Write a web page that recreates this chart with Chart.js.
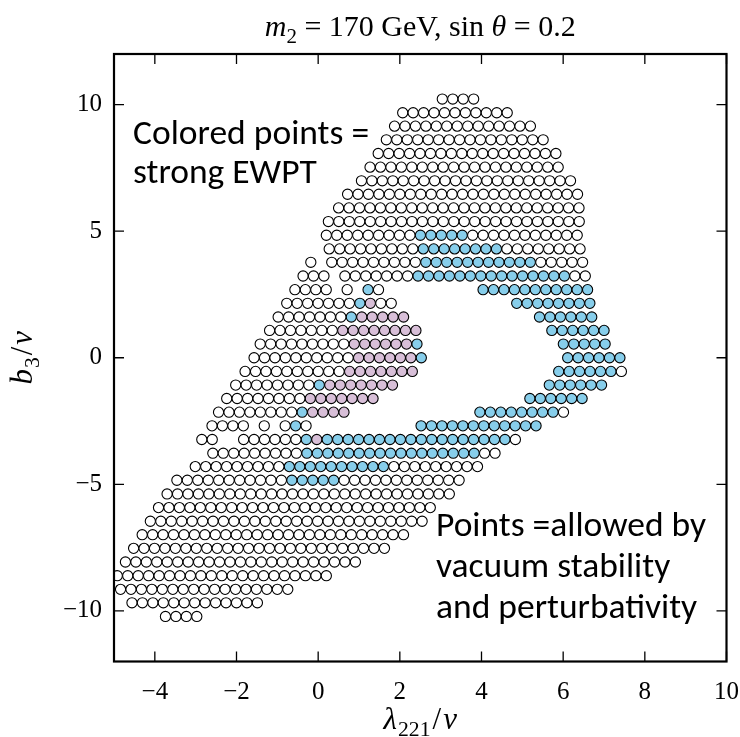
<!DOCTYPE html>
<html>
<head>
<meta charset="utf-8">
<script src="https://cdn.jsdelivr.net/npm/chart.js@4.4.1/dist/chart.umd.min.js"></script>
<style>
  body { margin: 0; background: #fff; }
  canvas { display: block; }
</style>
</head>
<body>
<canvas id="scan" width="740" height="737"></canvas>
<script>
// scan rows, top to bottom. pattern: w = allowed, b / p = strong EWPT, . = no point
const rowB3 = [10.22, 9.68, 9.15, 8.61, 8.07, 7.53, 6.99, 6.46, 5.92, 5.38,
  4.84, 4.30, 3.77, 3.23, 2.69, 2.15, 1.61, 1.08, 0.54, 0,
  -0.54, -1.08, -1.61, -2.15, -2.69, -3.23, -3.77, -4.30, -4.84, -5.38,
  -5.92, -6.46, -6.99, -7.53, -8.07, -8.61, -9.15, -9.68, -10.22];
const rowStart = [3.04, 2.07, 1.87, 1.67, 1.47, 1.27, 1.06, 0.72, 0.50, 0.25,
  0.20, 0.27, -0.18, -0.37, -0.57, -0.77, -0.98, -1.19, -1.42, -1.57,
  -1.79, -2.02, -2.24, -2.44, -2.60, -2.85, -2.58, -3.01, -3.46, -3.70,
  -3.91, -4.11, -4.31, -4.52, -4.72, -4.92, -4.84, -4.56, -3.74];
const rowPattern = [
  'wwww',
  'wwwwwwwwwww',
  'wwwwwwwwwwwwww',
  'wwwwwwwwwwwwwwww',
  'wwwwwwwwwwwwwwwwww',
  'wwwwwwwwwwwwwwwwwww',
  'wwwwwwwwwwwwwwwwwwwww',
  'wwwwwwwwwwwwwwwwwwwwwww',
  'wwwwwwwwwwwwwwwwwwwwwwww',
  'wwwwwwwwwwwwwwwwwwwwwwwww',
  'wwwwwwwwwbbbbbwwwwwwwwwww',
  'wwwwwwwwwbbbbbbbbwwwwwwww',
  'w.wwwwwwwwwbbbbbbbbbbbwwwww',
  'www.wwwwwwwbbbbbbbbbbbbbbbww',
  'wwww.w.bw.........bbbbbbbbbbb',
  'wwwwwwwbpww...........bbbbbbbb',
  'wwwwwwwbppppp............bbbbbb',
  'wwwwwwwpppppppp............bbbbbb',
  'wwwwwwwwwppppppb.............bbbbb',
  'wwwwwwwwwwppppppb.............bbbbbb',
  'wwwwwwwwwwppppppp.............bbbbbbw',
  'wwwwwwwwbppppppp..............bbbbbb',
  'wwwwwwwwppppppp..............bbbbbb',
  'wwwwwwwwbpppp............bbbbbbbbw',
  'wwww.w.wbw..........bbbbbbbbbbbb',
  'ww..wwwwwwbpbbbbbbbbbbbbbbbbbbw',
  'wwwwwwwwwbbbbbbbbbbbbbbbbbww',
  'wwwwwwwwwbbbbbbbbbbwwwwwwwww',
  'wwwwwwwwwwwbbbbbwwwwwwwwwwww',
  'wwwwwwwwwwwwwwwwwwwwwwwwwwww',
  'wwwwwwwwwwwwwwwwwwwwwwwwwww',
  'wwwwwwwwwwwwwwwwwwwwwwwwwww',
  'wwwwwwwwwwwwwwwwwwwwwwwwww',
  'wwwwwwwwwwwwwwwwwwwwwwwww',
  'wwwwwwwwwwwwwwwwwwwwwww',
  'wwwwwwwwwwwwwwwwwwwww',
  'wwwwwwwwwwwwwwwww',
  'wwwwwwwwwwwww',
  'wwww'
];
const lambdaStep = 0.256;

const xTicks = [-4, -2, 0, 2, 4, 6, 8, 10];
const yTicks = [-10, -5, 0, 5, 10];

const fills = { w: '#ffffff', b: '#87ceeb', p: '#d8bfd8' };
const groups = { w: [], b: [], p: [] };
rowPattern.forEach((pat, r) => {
  for (let i = 0; i < pat.length; i++) {
    const c = pat[i];
    if (c === '.') continue;
    groups[c].push({ x: rowStart[r] + i * lambdaStep, y: rowB3[r] });
  }
});

const serif = '"Liberation Serif", "DejaVu Serif", serif';
const sans = 'Carlito, Calibri, Lato, "Open Sans", sans-serif';

function fmt(v) {
  return v < 0 ? '\u2212' + Math.abs(v) : String(v);
}

// text with italic / subscript runs, centred on cx
function drawRuns(ctx, runs, cx, base, size) {
  let total = 0;
  const parts = runs.map(r => {
    const s = r.sub ? size * 0.7 : size;
    const font = (r.it ? 'italic ' : '') + s + 'px ' + serif;
    ctx.font = font;
    const w = ctx.measureText(r.t).width + (r.pad || 0);
    total += w;
    return { r, font, w };
  });
  let x = cx - total / 2;
  parts.forEach(p => {
    ctx.font = p.font;
    ctx.fillText(p.r.t, x, base + (p.r.sub ? size * 0.22 : 0));
    x += p.w;
  });
}

const frame = {
  id: 'frame',
  afterDatasetsDraw(chart) {
    const { ctx, chartArea: a, scales } = chart;
    ctx.save();
    ctx.strokeStyle = '#000';
    ctx.lineWidth = 1.3;
    ctx.beginPath();
    xTicks.forEach(v => {
      const px = scales.x.getPixelForValue(v);
      ctx.moveTo(px, a.bottom); ctx.lineTo(px, a.bottom - 10);
      ctx.moveTo(px, a.top); ctx.lineTo(px, a.top + 10);
    });
    yTicks.forEach(v => {
      const py = scales.y.getPixelForValue(v);
      ctx.moveTo(a.left, py); ctx.lineTo(a.left + 10, py);
      ctx.moveTo(a.right, py); ctx.lineTo(a.right - 10, py);
    });
    ctx.stroke();
    ctx.lineWidth = 2.2;
    ctx.strokeRect(a.left, a.top, a.right - a.left, a.bottom - a.top);

    ctx.fillStyle = '#000';
    ctx.textBaseline = 'alphabetic';
    const cx = (a.left + a.right) / 2;
    drawRuns(ctx, [{ t: 'm', it: true }, { t: '2', sub: true }, { t: ' = 170 GeV, sin ' },
      { t: '\u03b8', it: true }, { t: ' = 0.2' }], cx, 36, 30);
    drawRuns(ctx, [{ t: '\u03bb', it: true, pad: 1 }, { t: '221', sub: true, pad: 2 }, { t: '/', pad: 2 },
      { t: 'v', it: true }], cx, 729, 31);
    ctx.save();
    ctx.translate(32, (a.top + a.bottom) / 2);
    ctx.rotate(-Math.PI / 2);
    drawRuns(ctx, [{ t: 'b', it: true, pad: 1 }, { t: '3', sub: true, pad: 2 }, { t: '/', pad: 2 },
      { t: 'v', it: true }], 0, 0, 31);
    ctx.restore();

    ctx.font = '35.5px ' + sans;
    ctx.textAlign = 'left';
    ctx.fillText('Colored points =', 133, 144);
    ctx.fillText('strong EWPT', 133, 183);
    ctx.fillText('Points =allowed by', 436, 536);
    ctx.fillText('vacuum stability', 436, 577);
    ctx.fillText('and perturbativity', 436, 618);
    ctx.restore();
  }
};

const pointStyle = c => ({
  data: groups[c],
  backgroundColor: fills[c],
  borderColor: '#000',
  borderWidth: 1.1,
  pointRadius: 5.1,
  pointHoverRadius: 5.1
});

new Chart(document.getElementById('scan'), {
  type: 'scatter',
  data: {
    datasets: [pointStyle('w'), pointStyle('b'), pointStyle('p')]
  },
  options: {
    responsive: false,
    animation: false,
    layout: { padding: { left: 0, right: 13.5, top: 54, bottom: 0 } },
    plugins: { legend: { display: false }, tooltip: { enabled: false } },
    scales: {
      x: {
        type: 'linear', min: -5, max: 10,
        afterBuildTicks: s => { s.ticks = xTicks.map(v => ({ value: v })); },
        afterFit: s => { s.height = 75.5; s.paddingLeft = 0; s.paddingRight = 0; },
        grid: { display: false, drawTicks: false },
        border: { display: false },
        ticks: { padding: 16, color: '#000', font: { family: serif, size: 25 }, callback: fmt, maxRotation: 0 }
      },
      y: {
        type: 'linear', min: -12, max: 12,
        afterBuildTicks: s => { s.ticks = yTicks.map(v => ({ value: v })); },
        afterFit: s => { s.width = 114; s.paddingTop = 0; s.paddingBottom = 0; },
        grid: { display: false, drawTicks: false },
        border: { display: false },
        ticks: { padding: 12, color: '#000', font: { family: serif, size: 25 }, callback: fmt }
      }
    }
  },
  plugins: [frame]
});
</script>
</body>
</html>
